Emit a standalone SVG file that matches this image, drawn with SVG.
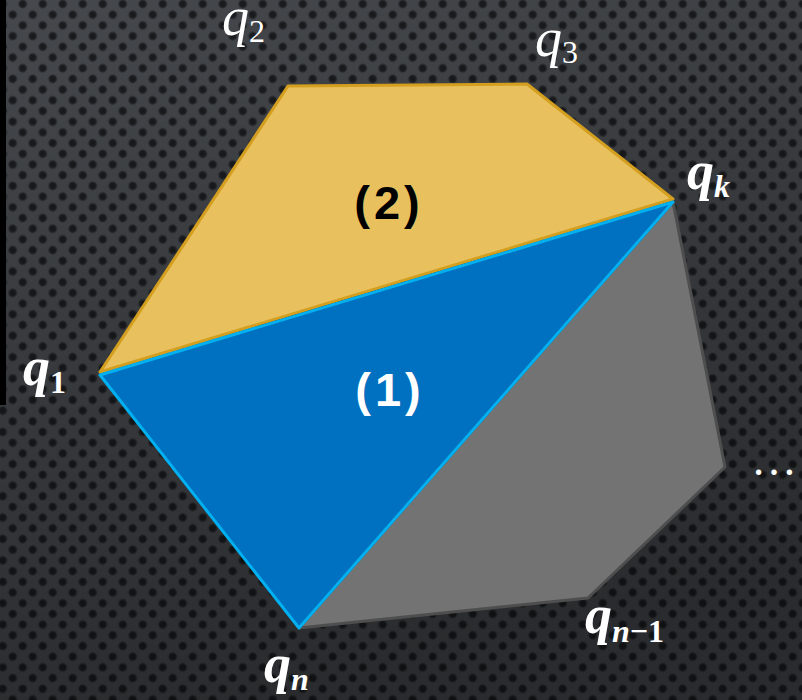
<svg xmlns="http://www.w3.org/2000/svg" width="802" height="700" viewBox="0 0 802 700">
<defs>
<radialGradient id="dotg">
<stop offset="0" stop-color="#17191b"/>
<stop offset="0.6" stop-color="#1c1e21"/>
<stop offset="1" stop-color="#1c1e21" stop-opacity="0"/>
</radialGradient>
<pattern id="carbon" width="20" height="21.4" patternUnits="userSpaceOnUse" x="2.7" y="4">
<rect width="20" height="21.4" fill="#45484c"/>
<circle cx="0" cy="0" r="5" fill="url(#dotg)"/>
<circle cx="20" cy="0" r="5" fill="url(#dotg)"/>
<circle cx="0" cy="21.4" r="5" fill="url(#dotg)"/>
<circle cx="20" cy="21.4" r="5" fill="url(#dotg)"/>
<circle cx="10" cy="10.7" r="5" fill="url(#dotg)"/>
</pattern>
<linearGradient id="shade" x1="0" y1="0" x2="0.3" y2="1">
<stop offset="0" stop-color="#000" stop-opacity="0"/>
<stop offset="1" stop-color="#000" stop-opacity="0.4"/>
</linearGradient>
<style>
.m{font-family:"Liberation Serif","DejaVu Serif",serif;fill:#ffffff}
.it{font-style:italic}
.b{font-weight:bold}
.lab{font-family:"Liberation Sans","DejaVu Sans",sans-serif;font-weight:bold;font-size:47px;text-anchor:middle;letter-spacing:4px}
</style>
</defs>
<rect width="802" height="700" fill="url(#carbon)"/>
<rect width="802" height="700" fill="url(#shade)"/>
<rect x="0" y="0" width="6" height="405" fill="#000"/>
<g id="connectors"></g>
<g id="region-gray">
<polygon points="673,202 725,467 588,598 299,628" fill="#737373" stroke="#4e4e4e" stroke-width="3" stroke-linejoin="round"/>
</g>
<g id="region-2">
<polygon points="100,372 288,86 527,84 673,199" fill="#e8c05e" stroke="#d49f1e" stroke-width="3" stroke-linejoin="round"/>
<text class="lab" x="389" y="219" fill="#000">(2)</text>
</g>
<g id="region-1">
<polygon points="100,375 673,202 299,628" fill="#0070c0" stroke="#00b0f0" stroke-width="3" stroke-linejoin="round"/>
<text class="lab" x="390" y="406" fill="#fff">(1)</text>
</g>
<g id="labels">
<text class="m" x="23" y="385" font-size="54"><tspan class="it b">q</tspan><tspan class="b" font-size="32" dy="8">1</tspan></text>
<text class="m" x="222" y="35" font-size="54"><tspan class="it">q</tspan><tspan font-size="32" dy="7">2</tspan></text>
<text class="m" x="535" y="56" font-size="54"><tspan class="it">q</tspan><tspan font-size="32" dy="7">3</tspan></text>
<text class="m" x="687" y="189" font-size="54"><tspan class="it b">q</tspan><tspan class="it b" font-size="32" dy="8">k</tspan></text>
<text class="m" x="585" y="633" font-size="54"><tspan class="it b">q</tspan><tspan class="b" font-size="32" dy="9"><tspan class="it">n</tspan>−1</tspan></text>
<text class="m" x="264" y="682" font-size="54"><tspan class="it b">q</tspan><tspan class="it b" font-size="32" dy="8">n</tspan></text>
<text class="m" x="751" y="475" font-size="46">…</text>
</g>
</svg>
